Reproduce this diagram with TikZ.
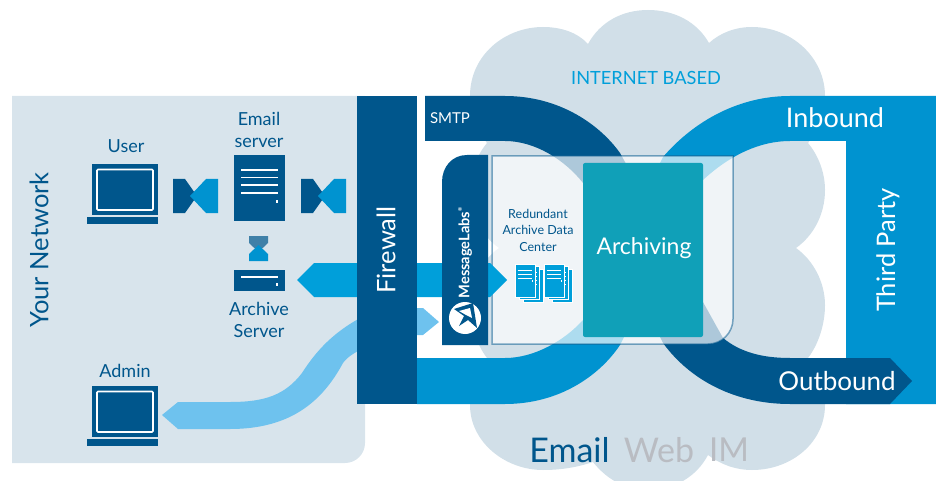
\documentclass[tikz,border=0pt]{standalone}
\usepackage{fontspec}
\setmainfont{Lato}
\definecolor{navy}{HTML}{00568C}
\definecolor{midblue}{HTML}{0093D0}
\definecolor{arrowblue}{HTML}{009FDA}
\definecolor{lightarrow}{HTML}{6EC2EE}
\definecolor{panelc}{HTML}{D8E4EC}
\definecolor{cloudc}{HTML}{D1DFE8}
\definecolor{tealc}{HTML}{10A0B8}
\definecolor{greyc}{HTML}{B9BCC2}
\definecolor{hourc}{HTML}{3F80A8}
\tikzset{
  whiteline/.style={draw=white,line width=1.5pt},
  lab/.style={text=navy,align=center,inner sep=0pt,font=\fontsize{18}{22}\selectfont},
  wlab/.style={text=white,inner sep=0pt,font=\fontsize{26}{30}\selectfont},
}
\newcommand{\laptopicon}[2]{%
  \fill[navy] (#1+5,#2) rectangle (#1+71,#2+51);
  \draw[white,line width=1.6pt,rounded corners=1pt] (#1+10,#2+5.5) rectangle (#1+66,#2+46);
  \fill[navy] (#1,#2+53) rectangle (#1+71,#2+60);
}
\newcommand{\tieicon}[1]{%
  \fill[navy] (#1,179) -- (#1+12,179) -- (#1+24,196) -- (#1+12,213) -- (#1,213) -- cycle;
  \fill[midblue] (#1+45,179) -- (#1+33,179) -- (#1+17,196) -- (#1+33,213) -- (#1+45,213) -- cycle;
}
\newcommand{\serversheet}[2]{%
  \fill[arrowblue,draw=white,line width=.6pt] (#1,#2) rectangle (#1+20,#2+33);
}
\newcommand{\serverstack}[1]{%
  \serversheet{#1+8}{269}
  \serversheet{#1+4}{266.5}
  \serversheet{#1}{264}
  \foreach \yy in {270,274,278}{\draw[white,line width=1pt] (#1+2.5,\yy) -- (#1+17,\yy);}
  \fill[white] (#1+16.5,279.5) rectangle (#1+17.5,282);
  \foreach \yy in {272,276,280,284}{\fill[white] (#1+21,\yy) rectangle (#1+22,\yy+1);}
}
\begin{document}
\begin{tikzpicture}[x=1pt,y=-1pt]
\useasboundingbox (0,0) rectangle (936,481);
% your network panel
\fill[panelc] (12,96) -- (365,96) -- (365,443) arc[start angle=0,end angle=90,radius=20] -- (12,463) -- cycle;
% cloud
\fill[cloudc] (470,96) .. controls (470,55) and (505,27) .. (543,27)
 .. controls (562,27) and (578,33) .. (588,44)
 .. controls (600,22) and (622,10) .. (648,10)
 .. controls (675,10) and (697,22) .. (709,43)
 .. controls (720,33) and (735,27) .. (752,27)
 .. controls (792,27) and (825,58) .. (825,96)
 .. controls (825,113) and (818,130) .. (808,143)
 .. controls (818,155) and (825,172) .. (825,190)
 .. controls (825,215) and (813,236) .. (796,248)
 .. controls (813,260) and (825,282) .. (825,305)
 .. controls (825,325) and (818,345) .. (808,358)
 .. controls (818,370) and (825,388) .. (825,405)
 .. controls (825,442) and (792,470) .. (752,470)
 .. controls (735,470) and (720,464) .. (708,455)
 .. controls (697,476) and (675,490) .. (648,490)
 .. controls (622,490) and (604,476) .. (593,462)
 .. controls (578,467) and (562,470) .. (543,470)
 .. controls (505,470) and (470,442) .. (470,405)
 .. controls (470,388) and (477,370) .. (487,358)
 .. controls (477,345) and (470,325) .. (470,305)
 .. controls (470,282) and (482,260) .. (499,248)
 .. controls (482,236) and (470,215) .. (470,190)
 .. controls (470,172) and (477,155) .. (487,143)
 .. controls (477,130) and (470,113) .. (470,96) -- cycle;
% blue band (inbound -> firewall) and third party
\fill[midblue] (936,96) -- (790,96) .. controls (740,96) and (695,120) .. (663,157)
 -- (583,320) .. controls (565,340) and (535,358) .. (505,358) -- (417,358) -- (417,404) -- (505,404)
 .. controls (560,404) and (600,375) .. (620,345) -- (703,180)
 .. controls (730,155) and (760,141) .. (790,141) -- (846,141) -- (846,404) -- (936,404) -- cycle;
% dark band (SMTP -> outbound)
\fill[navy] (425,96) -- (505,96) .. controls (560,96) and (600,125) .. (620,153) -- (723,338)
 .. controls (740,352) and (762,358) .. (790,358) -- (890,358) -- (912,381) -- (890,404) -- (790,404)
 .. controls (735,404) and (690,380) .. (663,343) -- (583,183)
 .. controls (565,160) and (535,141) .. (505,141) -- (425,141) -- cycle;
% translucent data centre box
\path[fill=white,fill opacity=.68] (492,156) -- (733,156) -- (733,319) arc[start angle=0,end angle=90,radius=25] -- (492,344) -- cycle;
\draw[draw=navy,draw opacity=.5,line width=1.5pt] (492,156) -- (733,156) -- (733,319) arc[start angle=0,end angle=90,radius=25] -- (492,344) -- cycle;
% archiving
\fill[tealc,rounded corners=2pt] (583,163) rectangle (703,337);
% arrows
\fill[arrowblue] (297,280) -- (314,263) -- (490,263) -- (507,280) -- (490,297) -- (314,297) -- cycle;
\fill[lightarrow] (162,415) -- (178,402) -- (230,402) .. controls (265,402) and (285,395) .. (302,373)
 .. controls (318,348) and (335,332) .. (360,318) -- (360,350) .. controls (350,355) and (345,360) .. (343,363)
 .. controls (322,402) and (290,429) .. (230,429) -- (178,429) -- cycle;
\fill[lightarrow] (415,308) -- (423,308) -- (439,322) -- (423,335) -- (415,335) -- cycle;
% firewall
\fill[navy] (357,96) rectangle (417,404);
% messagelabs
\fill[navy] (488,155) -- (467,155) .. controls (452,155) and (442,167) .. (442,182) -- (442,345) -- (488,345) -- cycle;
\fill[white] (465,318) circle[radius=16];
\fill[navy] (454,309) -- (473,303) -- (477,328) -- (468,320) -- (459,326) -- (464,316) -- cycle;
\fill[white] (459,311) -- (470,308) -- (472,318) -- (466,315) -- cycle;
% laptops
\laptopicon{87}{164}
\laptopicon{87}{386}
% connectors icons
\tieicon{173}
\tieicon{301}
% email server
\fill[navy] (234,155) rectangle (285,221);
\foreach \yy in {170,177.5,185,193}{\draw[whiteline] (241,\yy) -- (278,\yy);}
\fill[white] (275.5,199.5) rectangle (278,202.5);
% hourglass
\fill[hourc] (249,236) -- (268,236) -- (268,243) -- (258.5,252) -- (249,243) -- cycle;
\fill[midblue] (249,261) -- (268,261) -- (268,254) -- (258.5,245) -- (249,254) -- cycle;
% archive server
\fill[navy] (234,270) rectangle (285,291);
\draw[whiteline] (241,277) -- (278,277);
\fill[white] (275.5,283) rectangle (278,286);
% data centre servers
\serverstack{515}
\serverstack{544}
% texts
\node[lab] (user) at (126,146) {User};
\node[lab] (emailsrv) at (259,129.5) {Email\\server};
\node[lab] (archsrv) at (259,320) {Archive\\Server};
\node[lab] (admin) at (125,371) {Admin};
\node[lab,font=\fontsize{25.5}{30}\selectfont,rotate=90] (yournet) at (39,250) {Your Network};
\node[wlab,font=\fontsize{25.5}{30}\selectfont,rotate=90] (fw) at (386,250) {Firewall};
\node[wlab,font=\fontsize{15}{17}\selectfont] (smtp) at (450,118) {SMTP};
\node[inner sep=0pt,text=arrowblue,font=\fontsize{18.2}{21}\selectfont] (inet) at (646,78) {INTERNET BASED};
\node[wlab,font=\fontsize{27}{30}\selectfont] (inb) at (835,118) {Inbound};
\node[wlab,font=\fontsize{25.5}{30}\selectfont,rotate=90] (third) at (888,250) {Third Party};
\node[wlab] (outb) at (837,381) {Outbound};
\node[wlab,font=\fontsize{23}{26}\selectfont] (archv) at (644,248) {Archiving};
\node[lab,font=\fontsize{12.5}{16.5}\selectfont] (redund) at (538,230) {Redundant\\Archive Data\\Center};
\node[wlab,font=\fontsize{14.6}{18}\selectfont\bfseries,rotate=90] (ml) at (465,253) {MessageLabs\raisebox{1ex}{\fontsize{5}{6}\selectfont ®}};
\node[inner sep=0pt,text=navy,font=\fontsize{34}{38}\selectfont] (em) at (569.5,450) {Email};
\node[inner sep=0pt,text=greyc,font=\fontsize{34}{38}\selectfont] (wb) at (659,450) {Web};
\node[inner sep=0pt,text=greyc,font=\fontsize{33}{38}\selectfont] (im) at (729,450) {IM};
\end{tikzpicture}
\end{document}
